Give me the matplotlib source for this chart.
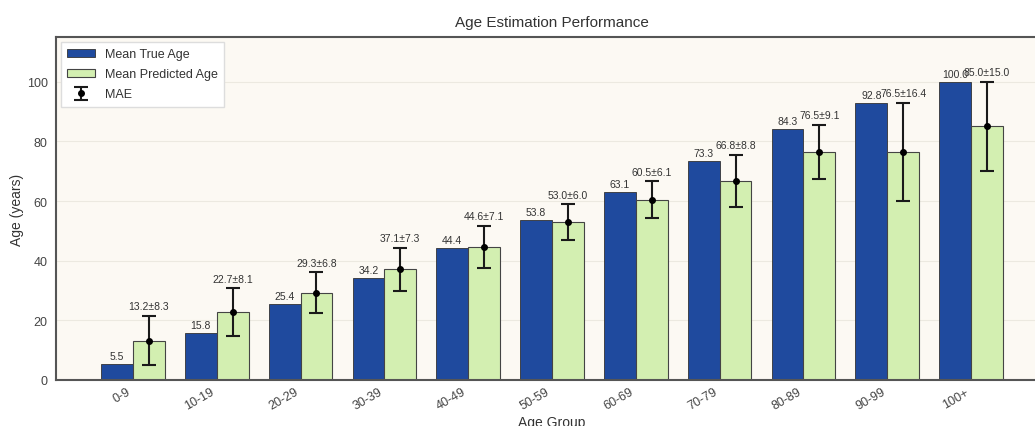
import matplotlib
matplotlib.use("Agg")
import matplotlib.pyplot as plt
import numpy as np

plt.rcParams['font.family'] = ['Liberation Sans', 'DejaVu Sans']

age_groups = ['0-9', '10-19', '20-29', '30-39', '40-49', '50-59',
              '60-69', '70-79', '80-89', '90-99', '100+']
mean_true = [5.5, 15.8, 25.4, 34.2, 44.4, 53.8, 63.1, 73.3, 84.3, 92.8, 100.0]
mean_pred = [13.2, 22.7, 29.3, 37.1, 44.6, 53.0, 60.5, 66.8, 76.5, 76.5, 85.0]
mae = [8.3, 8.1, 6.8, 7.3, 7.1, 6.0, 6.1, 8.8, 9.1, 16.4, 15.0]

W, H = 1035, 427
fig = plt.figure(figsize=(W / 100, H / 100), dpi=100)
fig.patch.set_facecolor('white')
ax = fig.add_axes([56 / W, (H - 381) / H, (1048 - 56) / W, (381 - 38) / H])
ax.set_facecolor('#fcf9f3')

x = np.arange(len(age_groups))
width = 0.38
blue = '#1f4a9e'
green = '#d3efb1'

ax.bar(x - width / 2, mean_true, width, color=blue, edgecolor='#333333',
       linewidth=0.6, label='Mean True Age', zorder=2)
ax.bar(x + width / 2, mean_pred, width, color=green, edgecolor='#444444',
       linewidth=0.8, label='Mean Predicted Age', zorder=2)
ax.errorbar(x + width / 2, mean_pred, yerr=mae, fmt='o', color='black',
            ecolor='#1a1a1a', elinewidth=1.5, capsize=5, capthick=1.5,
            markersize=4, label='MAE', zorder=3)

for xi, v in zip(x, mean_true):
    ax.text(xi - width / 2, v + 1.0, f'{v:.1f}', ha='center', va='bottom',
            fontsize=7.5, color='#333333')
for xi, v, e in zip(x, mean_pred, mae):
    ax.text(xi + width / 2, v + e + 1.5, f'{v:.1f}\u00b1{e:.1f}', ha='center',
            va='bottom', fontsize=7.5, color='#333333')

ax.set_ylim(0, 115)
ax.set_xticks(x)
ax.set_xticklabels(age_groups, rotation=30, ha='right', fontsize=9, color='#444444')
ax.tick_params(axis='y', labelsize=9, labelcolor='#444444', length=0, pad=6)
ax.tick_params(axis='x', length=0, pad=4)
ax.set_yticks([0, 20, 40, 60, 80, 100])

ax.grid(axis='y', color='#ece9e0', linewidth=0.8, zorder=0)
ax.set_axisbelow(True)
for side in ['left', 'bottom', 'top']:
    ax.spines[side].set_color('#555555')
    ax.spines[side].set_linewidth(1.5)
ax.spines['right'].set_visible(False)

ax.set_title('Age Estimation Performance', fontsize=11, color='#333333', pad=8)
ax.set_ylabel('Age (years)', fontsize=10, color='#333333', labelpad=2)
ax.set_xlabel('Age Group', fontsize=10, color='#333333', labelpad=2)

leg = ax.legend(loc='upper left', fontsize=9, frameon=True, fancybox=False,
                edgecolor='#dddddd', framealpha=1.0, borderpad=0.5,
                handlelength=2.2, handleheight=0.6, labelspacing=0.65,
                handletextpad=0.8, borderaxespad=0.4)
for t in leg.get_texts():
    t.set_color('#333333')

fig.savefig('out.png', dpi=100, facecolor='white')
